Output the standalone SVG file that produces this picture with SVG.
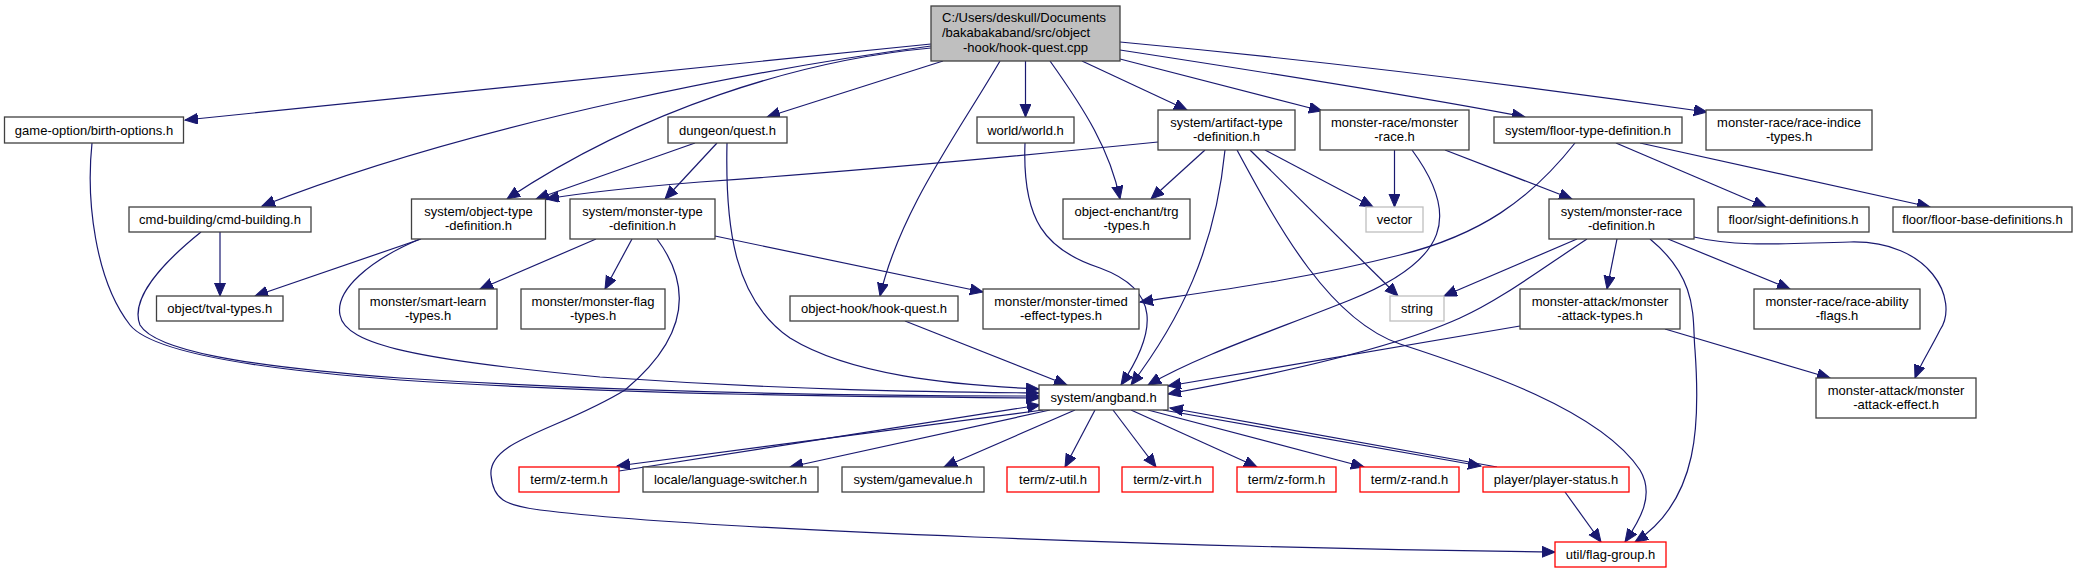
<svg xmlns="http://www.w3.org/2000/svg" width="2077" height="573" viewBox="0 0 2077 573">
<style>
.n rect{fill:#fff;stroke:#404040;stroke-width:1.3}
.n.red rect{stroke:#ff0000}
.n.gray rect{stroke:#bfbfbf}
.n.main rect{fill:#bfbfbf}
text{font-family:"Liberation Sans",Arial,sans-serif;font-size:13px;fill:#000;text-anchor:middle}
text.l{text-anchor:start}
#edges path{fill:none;stroke:#191970;stroke-width:1.2;marker-end:url(#ah)}
</style>
<defs>
<marker id="ah" markerUnits="userSpaceOnUse" markerWidth="14" markerHeight="12" refX="13" refY="5.5" orient="auto"><path d="M0,0 L13,5.5 L0,11 z" fill="#191970" stroke="#191970" stroke-width="1"/></marker>
</defs>
<rect width="2077" height="573" fill="#fff"/>
<g id="edges">
<path d="M931,44 L185,120"/>
<path d="M931,46 C780,66 480,120 262,206"/>
<path d="M931,48 C800,60 640,110 507,199"/>
<path d="M943,61 L767,117"/>
<path d="M1000,61 C960,130 900,210 880,296"/>
<path d="M1025.5,61 L1025.5,117"/>
<path d="M1050,61 C1085,110 1110,150 1120,199"/>
<path d="M1082,61 L1187,110"/>
<path d="M1120,59 L1322,111"/>
<path d="M1120,50 Q1400,93 1525,117"/>
<path d="M1120,42 Q1400,68 1707,112"/>
<path d="M92,143 C86,200 95,280 130,325 C150,350 240,368 400,380 C650,396 900,397 1039,398"/>
<path d="M220,232 L220,296"/>
<path d="M201,232 C160,265 130,300 140,325 C155,350 240,366 400,378 C650,394 900,396 1039,396"/>
<path d="M421,239 L255,296"/>
<path d="M420,239 C370,260 335,290 340,315 C345,345 420,360 600,377 C800,391 950,392 1039,393"/>
<path d="M695,143 L536,199"/>
<path d="M717,143 L665,199"/>
<path d="M727,143 C725,230 735,300 790,338 C850,375 950,385 1039,389"/>
<path d="M596,239 L480,289"/>
<path d="M632,239 L605,289"/>
<path d="M715,236 L983,292"/>
<path d="M657,239 C695,290 685,340 625,390 C560,430 488,440 491,475 C493,500 505,505 540,510 C700,530 1200,548 1555,552"/>
<path d="M1025,143 C1022,220 1045,250 1100,268 C1160,290 1158,330 1121,385"/>
<path d="M1158,142 Q900,168 700,182 Q600,190 546,199"/>
<path d="M1205,150 L1151,199"/>
<path d="M1265,150 L1373,207"/>
<path d="M1250,150 L1398,296"/>
<path d="M1225,150 C1215,250 1180,320 1131,385"/>
<path d="M1237,150 C1280,230 1330,320 1400,344 C1480,370 1600,410 1640,470 C1655,495 1640,520 1625,542"/>
<path d="M1394.5,150 L1394.5,207"/>
<path d="M1412,150 C1460,215 1450,260 1350,300 C1270,332 1200,355 1148,385"/>
<path d="M1445,150 L1572,199"/>
<path d="M1575,143 C1530,200 1480,235 1400,255 C1300,280 1220,290 1140,302"/>
<path d="M1616,143 L1766,207"/>
<path d="M1640,143 L1930,207"/>
<path d="M1577,239 L1444,296"/>
<path d="M1587,239 C1540,270 1500,300 1460,318 C1400,345 1300,370 1168,394"/>
<path d="M1617,239 L1607,289"/>
<path d="M1650,239 C1700,280 1692,320 1695,350 C1700,420 1700,500 1635,542"/>
<path d="M1668,239 L1790,289"/>
<path d="M1694,237 C1740,248 1790,243 1850,242 C1930,240 1960,300 1940,330 C1930,350 1920,365 1915,378"/>
<path d="M1520,326 L1168,386"/>
<path d="M1665,329 L1830,378"/>
<path d="M905,321 L1067,385"/>
<path d="M1043,410 L617,466"/>
<path d="M619,471 L1040,405"/>
<path d="M1050,410 L790,467"/>
<path d="M1075,410 L944,467"/>
<path d="M1095,410 L1065,467"/>
<path d="M1113,410 L1156,467"/>
<path d="M1131,410 L1257,467"/>
<path d="M1148,410 L1364,467"/>
<path d="M1163,410 L1481,466"/>
<path d="M1497,467 L1170,408"/>
<path d="M1565,492 L1601,542"/>
</g>
<g id="n_main" class="n main"><rect x="931" y="6" width="189" height="55"/><text class="l" x="942" y="21.5">C:/Users/deskull/Documents</text><text class="l" x="942" y="36.5">/bakabakaband/src/object</text><text x="1025.5" y="51.5">-hook/hook-quest.cpp</text></g>
<g id="n_birth" class="n"><rect x="4.5" y="117" width="179" height="26"/><text x="94" y="134.5">game-option/birth-options.h</text></g>
<g id="n_quest" class="n"><rect x="668" y="117" width="119" height="26"/><text x="727.5" y="134.5">dungeon/quest.h</text></g>
<g id="n_world" class="n"><rect x="977" y="117" width="97" height="26"/><text x="1025.5" y="134.5">world/world.h</text></g>
<g id="n_artifact" class="n"><rect x="1158" y="110" width="137" height="40"/><text x="1226.5" y="126.5">system/artifact-type</text><text x="1226.5" y="141">-definition.h</text></g>
<g id="n_mrace" class="n"><rect x="1320" y="110" width="149" height="40"/><text x="1394.5" y="126.5">monster-race/monster</text><text x="1394.5" y="141">-race.h</text></g>
<g id="n_floortype" class="n"><rect x="1494" y="117" width="188" height="26"/><text x="1588" y="134.5">system/floor-type-definition.h</text></g>
<g id="n_raceindice" class="n"><rect x="1706" y="110" width="166" height="40"/><text x="1789" y="126.5">monster-race/race-indice</text><text x="1789" y="141">-types.h</text></g>
<g id="n_cmd" class="n"><rect x="129" y="207" width="182" height="25"/><text x="220" y="224">cmd-building/cmd-building.h</text></g>
<g id="n_objtype" class="n"><rect x="411.5" y="199" width="134" height="40"/><text x="478.5" y="215.5">system/object-type</text><text x="478.5" y="230">-definition.h</text></g>
<g id="n_montype" class="n"><rect x="570" y="199" width="145" height="40"/><text x="642.5" y="215.5">system/monster-type</text><text x="642.5" y="230">-definition.h</text></g>
<g id="n_trg" class="n"><rect x="1063" y="199" width="127" height="40"/><text x="1126.5" y="215.5">object-enchant/trg</text><text x="1126.5" y="230">-types.h</text></g>
<g id="n_vector" class="n gray"><rect x="1366" y="207" width="57" height="25"/><text x="1394.5" y="224">vector</text></g>
<g id="n_mrdef" class="n"><rect x="1549" y="199" width="145" height="40"/><text x="1621.5" y="215.5">system/monster-race</text><text x="1621.5" y="230">-definition.h</text></g>
<g id="n_sight" class="n"><rect x="1718" y="207" width="151" height="25"/><text x="1793.5" y="224">floor/sight-definitions.h</text></g>
<g id="n_floorbase" class="n"><rect x="1893" y="207" width="179" height="25"/><text x="1982.5" y="224">floor/floor-base-definitions.h</text></g>
<g id="n_tval" class="n"><rect x="156.5" y="296" width="126.5" height="25"/><text x="219.75" y="313">object/tval-types.h</text></g>
<g id="n_smart" class="n"><rect x="359" y="289" width="138" height="40"/><text x="428" y="305.5">monster/smart-learn</text><text x="428" y="320">-types.h</text></g>
<g id="n_mflag" class="n"><rect x="521" y="289" width="144" height="40"/><text x="593" y="305.5">monster/monster-flag</text><text x="593" y="320">-types.h</text></g>
<g id="n_hookq" class="n"><rect x="790" y="296" width="168" height="25"/><text x="874" y="313">object-hook/hook-quest.h</text></g>
<g id="n_timed" class="n"><rect x="983" y="289" width="156" height="40"/><text x="1061" y="305.5">monster/monster-timed</text><text x="1061" y="320">-effect-types.h</text></g>
<g id="n_string" class="n gray"><rect x="1390" y="296" width="54" height="25"/><text x="1417" y="313">string</text></g>
<g id="n_atktypes" class="n"><rect x="1520" y="289" width="160" height="40"/><text x="1600" y="305.5">monster-attack/monster</text><text x="1600" y="320">-attack-types.h</text></g>
<g id="n_raceab" class="n"><rect x="1754" y="289" width="166" height="40"/><text x="1837" y="305.5">monster-race/race-ability</text><text x="1837" y="320">-flags.h</text></g>
<g id="n_angband" class="n"><rect x="1039" y="385" width="129" height="25"/><text x="1103.5" y="402">system/angband.h</text></g>
<g id="n_atkeffect" class="n"><rect x="1816" y="378" width="160" height="40"/><text x="1896" y="394.5">monster-attack/monster</text><text x="1896" y="409">-attack-effect.h</text></g>
<g id="n_zterm" class="n red"><rect x="519" y="467" width="100" height="25"/><text x="569" y="484">term/z-term.h</text></g>
<g id="n_lang" class="n"><rect x="643" y="467" width="175" height="25"/><text x="730.5" y="484">locale/language-switcher.h</text></g>
<g id="n_gamevalue" class="n"><rect x="842" y="467" width="142" height="25"/><text x="913" y="484">system/gamevalue.h</text></g>
<g id="n_zutil" class="n red"><rect x="1007" y="467" width="92" height="25"/><text x="1053" y="484">term/z-util.h</text></g>
<g id="n_zvirt" class="n red"><rect x="1122" y="467" width="91" height="25"/><text x="1167.5" y="484">term/z-virt.h</text></g>
<g id="n_zform" class="n red"><rect x="1237" y="467" width="99" height="25"/><text x="1286.5" y="484">term/z-form.h</text></g>
<g id="n_zrand" class="n red"><rect x="1360" y="467" width="99" height="25"/><text x="1409.5" y="484">term/z-rand.h</text></g>
<g id="n_pstatus" class="n red"><rect x="1483" y="467" width="146" height="25"/><text x="1556" y="484">player/player-status.h</text></g>
<g id="n_flag" class="n red"><rect x="1555" y="542" width="111" height="25"/><text x="1610.5" y="559">util/flag-group.h</text></g>
</svg>
